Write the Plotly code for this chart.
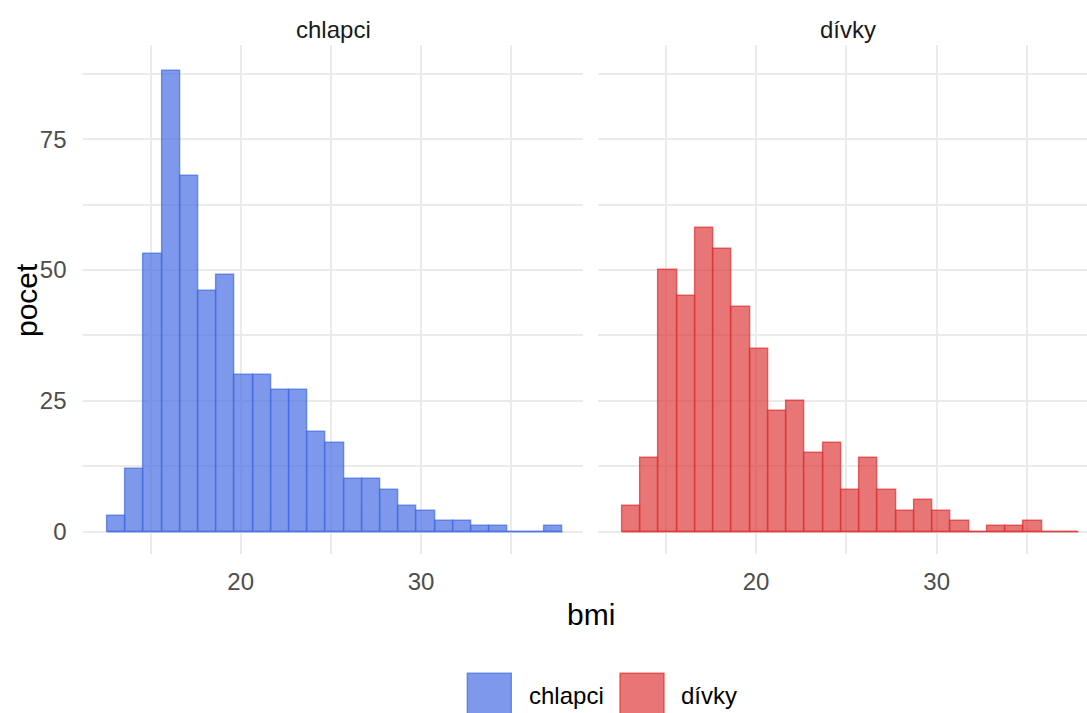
import plotly.graph_objects as go

# bmi histogram, counts per bin
bin_centers = [13.10, 14.11, 15.12, 16.13, 17.14, 18.15, 19.16, 20.17, 21.18, 22.19,
               23.20, 24.21, 25.22, 26.23, 27.24, 28.25, 29.26, 30.27, 31.28, 32.29,
               33.30, 34.31, 35.32, 36.33, 37.34]
bin_width = 1.01

chlapci = [3, 12, 53, 88, 68, 46, 49, 30, 30, 27, 27, 19, 17, 10, 10, 8, 5, 4, 2, 2,
           1, 1, 0, 0, 1]
divky = [5, 14, 50, 45, 58, 54, 43, 35, 23, 25, 15, 17, 8, 14, 8, 4, 6, 4, 2, 0,
         1, 1, 2, 0, 0]

groups = ["chlapci", "dívky"]
x_ticks = [20, 30]
y_ticks = [0, 25, 50, 75]

W, H = 1087, 713
fills = {"chlapci": "rgba(65,105,225,0.68)", "dívky": "rgba(221,45,45,0.65)"}
lines = {"chlapci": "rgba(65,105,225,0.7)", "dívky": "rgba(221,45,45,0.7)"}
font = "Liberation Sans, Arial, sans-serif"


def px(x):
    return x / W


def py(y):
    return 1 - y / H


fig = go.Figure()

for i, (name, counts) in enumerate(zip(groups, [chlapci, divky])):
    xa = "x" if i == 0 else "x2"
    ya = "y" if i == 0 else "y2"
    # baseline so empty bins still show the outline at zero, like ggplot
    fig.add_trace(go.Scatter(
        x=[bin_centers[0] - bin_width / 2, bin_centers[-1] + bin_width / 2], y=[0, 0],
        mode="lines", line=dict(color=lines[name], width=1.5),
        xaxis=xa, yaxis=ya, showlegend=False, hoverinfo="skip",
    ))
    fig.add_trace(go.Bar(
        x=bin_centers, y=counts, width=bin_width, name=name,
        marker=dict(color=fills[name], line=dict(color=lines[name], width=1.4)),
        xaxis=xa, yaxis=ya, showlegend=False,
    ))

grid = "#EBEBEB"
xcommon = dict(
    tickvals=x_ticks, showgrid=True, gridcolor=grid, gridwidth=1.8,
    minor=dict(dtick=5, tick0=0, showgrid=True, gridcolor=grid, gridwidth=1.5),
    zeroline=False, showline=False, ticks="outside", ticklen=6,
    tickcolor="rgba(0,0,0,0)", tickfont=dict(size=24, color="#4D4D4D", family=font),
)
ycommon = dict(
    range=[-4.3, 93.0], tickvals=y_ticks, showgrid=True, gridcolor=grid, gridwidth=1.8,
    minor=dict(dtick=12.5, tick0=0, showgrid=True, gridcolor=grid, gridwidth=1.5),
    zeroline=False, showline=False, ticks="outside", ticklen=11,
    tickcolor="rgba(0,0,0,0)", tickfont=dict(size=24, color="#4D4D4D", family=font),
)

y_dom = [py(554.2), py(45)]
fig.update_layout(
    width=W, height=H,
    margin=dict(l=0, r=0, t=0, b=0),
    paper_bgcolor="white", plot_bgcolor="white",
    bargap=0, showlegend=False,
    font=dict(family=font),
    xaxis=dict(domain=[px(83.3), px(582.7)], range=[11.27, 38.97], anchor="y", **xcommon),
    xaxis2=dict(domain=[px(598.3), 1.0], range=[11.27, 38.32], anchor="y2", **xcommon),
    yaxis=dict(domain=y_dom, anchor="x", **ycommon),
    yaxis2=dict(domain=y_dom, anchor="x2", matches="y", showticklabels=False,
                **{k: v for k, v in ycommon.items() if k != "range"}),
)


def label(text, x, y, size, color, **kw):
    fig.add_annotation(text=text, x=px(x), y=py(y), xref="paper", yref="paper",
                       xanchor=kw.pop("xanchor", "center"), yanchor="middle",
                       showarrow=False, font=dict(size=size, color=color), **kw)


# facet strip labels
label("chlapci", 333, 29, 24, "#1A1A1A")
label("dívky", 848, 29, 24, "#1A1A1A")

# axis titles
label("bmi", 591, 614, 30, "black")
label("pocet", 26, 300, 30, "black", textangle=-90)

# legend drawn by hand so the keys get ggplot's large squares
legend_items = [("chlapci", 467.3, 527.3), ("dívky", 620.0, 678.7)]
for name, kx, tx in legend_items:
    fig.add_shape(type="rect", xref="paper", yref="paper",
                  x0=px(kx), x1=px(kx + 44), y0=py(716), y1=py(673.3),
                  fillcolor=fills[name], line=dict(color=lines[name], width=1.4))
    label(name, tx, 695, 24, "black", xanchor="left")

fig.write_html("out.html", config={"displayModeBar": False},
               post_script="document.body.style.margin='0';")
